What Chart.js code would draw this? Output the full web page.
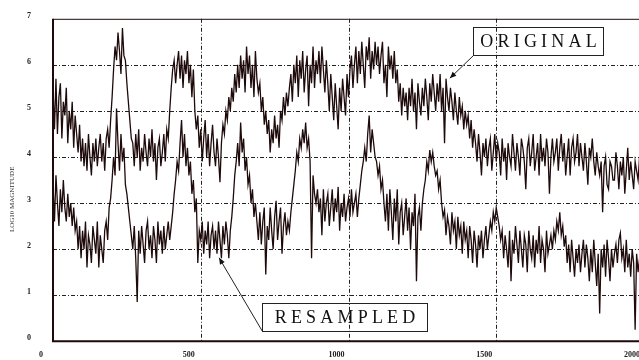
<!DOCTYPE html>
<html><head><meta charset="utf-8">
<script src="https://cdn.jsdelivr.net/npm/chart.js@4"></script>
<style>
html,body{margin:0;padding:0;background:#fff;overflow:hidden;width:639px;height:360px}
#wrap{position:absolute;left:0;top:0;width:660px;height:360px}
</style>
</head><body><div id="wrap"><canvas id="c" width="660" height="360"></canvas></div>
<script>
// Sampling grid of the spectra (frequency bins)
const START = 0, STEP = 5;

// LOG10 magnitude, ORIGINAL signal (0..2000 every 5)
const original = [
 5.5,4.6,5.7,4.5,5.3,5.6,4.4,5.2,4.9,5.5, 4.3,5.0,4.6,5.2,4.2,4.9,4.5,4.1,4.7,3.9,
 4.4,3.8,4.3,3.7,4.5,4.0,3.6,4.3,3.9,4.4, 3.8,4.2,4.5,3.9,4.3,3.7,4.4,4.6,4.2,4.8,
 5.3,5.9,6.4,6.1,6.7,6.3,5.8,6.8,6.2,6.1, 5.6,5.2,4.8,4.4,4.3,3.8,4.5,4.0,4.6,3.7,
 4.2,3.9,4.5,4.1,3.8,4.4,4.0,4.6,3.9,4.3, 3.5,4.2,4.4,3.8,4.1,4.5,3.9,4.6,4.4,5.0,
 5.5,5.9,6.1,5.6,6.0,6.3,5.7,6.2,5.5,6.1, 5.8,6.3,5.6,6.0,5.3,5.9,5.0,4.6,4.9,4.2,
 4.6,3.9,4.4,4.8,4.0,4.5,3.8,4.3,4.7,4.1, 3.8,4.4,4.0,3.45,4.3,4.7,4.5,5.0,4.8,5.3,
 5.0,5.5,5.2,5.8,5.4,6.0,5.5,6.2,5.7,6.1, 5.4,6.4,5.8,6.2,5.5,6.0,5.3,6.3,5.7,5.4,
 5.6,5.0,5.3,4.7,5.0,4.5,4.8,4.1,4.6,4.3, 4.9,4.4,4.7,4.2,5.0,4.8,5.3,4.9,5.4,5.1,
 5.5,5.8,5.2,6.0,5.6,6.2,5.3,6.1,5.7,6.3, 5.4,5.9,6.2,5.1,6.0,5.6,6.4,5.5,6.1,5.8,
 6.3,5.6,6.4,5.9,5.4,6.1,5.6,5.0,5.8,5.3, 4.8,5.6,5.1,4.6,5.5,5.0,5.7,5.3,4.9,5.8,
 5.3,5.9,6.2,5.5,6.0,6.4,5.6,6.3,5.8,6.5, 6.0,5.5,6.4,6.1,6.6,5.7,6.3,5.9,6.5,6.0,
 6.4,5.8,6.2,6.5,5.6,6.0,5.3,6.4,5.9,6.2, 5.7,6.3,5.6,5.9,5.2,5.6,4.9,5.5,5.1,5.4,
 4.8,5.5,5.1,5.7,5.0,5.4,4.6,5.6,5.2,4.9, 5.5,5.1,5.7,5.3,4.8,5.6,5.2,5.8,5.4,5.0,
 5.6,5.2,5.8,5.0,5.5,4.3,5.7,5.3,5.0,5.5, 5.2,4.8,5.4,5.0,4.7,5.3,4.9,5.1,4.6,5.0,
 4.7,4.9,4.4,4.8,4.2,4.6,4.3,3.9,4.5,4.1, 3.6,4.3,4.0,4.4,3.8,4.2,4.4,3.7,4.1,4.5,
 3.9,4.3,4.1,3.6,4.4,3.9,4.2,3.5,4.3,4.0, 3.8,4.5,4.1,3.7,4.3,4.0,3.6,4.4,4.2,3.9,
 3.3,4.2,4.4,3.8,4.1,4.5,3.7,4.0,4.3,3.6, 4.5,3.9,4.2,3.8,4.4,4.1,3.2,4.0,4.4,3.9,
 4.1,4.4,3.7,4.2,4.5,3.9,4.3,3.6,4.0,4.4, 3.6,4.2,4.4,3.9,4.1,4.5,3.8,4.3,4.0,3.7,
 4.3,3.9,3.4,4.2,4.0,4.4,3.9,3.6,4.1,3.8, 3.6,3.9,2.8,3.8,4.0,3.4,3.3,3.9,3.8,3.5,
 3.5,4.1,3.8,3.3,3.9,3.6,4.0,3.2,3.7,4.2, 3.5,3.9,3.6,3.3,3.9,3.7,3.5,4.0,3.8,3.4,
 3.6
];

// LOG10 magnitude, RESAMPLED signal (0..2000 every 5)
const resampled = [
 3.4,2.6,3.6,3.0,2.5,3.3,2.8,3.5,2.9,2.6, 3.2,2.7,3.0,2.5,2.9,2.4,2.6,2.0,2.5,1.8,
 2.4,2.0,2.6,1.6,2.3,2.1,1.7,2.5,2.2,1.9, 2.6,1.6,2.3,2.0,1.7,2.4,2.6,2.2,2.9,3.1,
 3.5,4.0,3.6,5.05,4.3,3.7,4.5,3.9,4.2,3.4, 3.2,2.9,2.6,2.3,2.0,2.5,1.8,0.85,2.4,1.9,
 2.5,2.1,1.7,2.4,2.6,2.0,2.3,1.8,2.5,2.2, 1.7,2.6,2.1,2.4,1.9,2.5,2.0,2.3,2.6,2.2,
 2.5,2.8,3.2,3.5,3.9,3.7,4.3,4.8,4.0,4.5, 3.8,4.2,3.6,3.9,3.2,3.5,2.8,3.1,1.7,2.4,
 2.2,2.6,1.9,2.4,2.1,2.6,1.8,2.3,2.5,2.0, 2.4,1.9,2.6,2.2,1.8,2.5,2.1,2.6,2.3,1.8,
 2.4,2.7,3.1,3.6,3.9,4.3,3.8,4.75,4.1,4.4, 3.7,4.0,3.4,3.6,3.0,3.3,2.7,3.0,2.6,2.2,
 2.8,2.1,2.6,2.9,1.45,2.5,2.2,2.9,2.4,2.0, 2.7,3.05,2.2,2.6,2.9,1.9,2.5,2.8,2.3,2.6,
 2.4,2.8,3.1,3.4,3.7,4.1,3.9,4.4,4.2,4.6, 4.3,4.75,4.2,4.4,3.9,1.8,3.6,3.2,3.0,3.3,
 2.8,3.1,2.3,3.3,2.6,3.0,3.2,2.5,2.9,3.3, 2.6,3.1,2.8,3.35,2.4,3.0,2.7,3.2,2.6,2.9,
 3.1,2.7,3.3,2.8,3.0,3.2,2.7,3.1,3.4,3.7, 3.9,4.2,3.9,4.5,4.9,4.1,4.6,4.3,4.0,3.9,
 3.6,3.8,3.3,3.5,3.0,2.6,3.2,2.4,3.3,2.8, 2.2,3.1,2.6,3.3,2.1,2.8,3.0,2.3,2.7,3.1,
 2.4,2.9,2.0,2.8,2.5,3.2,1.3,2.7,2.9,2.4, 3.0,3.3,3.5,3.9,3.7,4.15,3.9,4.1,3.8,3.6,
 3.7,3.3,3.5,3.0,2.7,2.85,2.3,2.7,2.5,2.1, 2.8,2.4,2.6,2.0,2.7,2.3,2.5,1.9,2.6,2.2,
 2.4,1.8,2.5,2.2,1.7,2.4,2.1,1.6,2.3,2.0, 2.4,1.8,2.2,2.5,2.0,2.3,2.6,2.4,2.8,2.6,
 2.9,2.7,2.5,2.2,2.4,1.8,2.3,2.0,1.6,2.4, 1.3,2.2,1.9,2.5,2.1,1.7,2.4,2.0,1.6,2.3,
 2.1,1.5,2.4,2.0,1.8,2.3,1.6,2.2,1.9,2.5, 1.7,2.2,2.0,1.5,2.4,1.9,2.1,2.3,2.0,2.4,
 2.2,2.6,2.4,2.8,2.3,2.5,2.05,2.3,1.7,2.1, 1.5,2.2,1.8,1.4,2.0,1.7,2.1,1.5,1.9,2.2,
 1.6,2.1,1.8,1.3,2.0,1.5,2.2,1.7,1.2,1.9, 0.6,2.0,1.6,2.1,1.4,2.2,1.8,1.3,2.0,1.6,
 1.9,2.1,1.7,2.2,2.35,1.8,2.0,1.5,2.2,1.6, 1.9,1.4,2.0,1.7,0.25,1.9,1.5,1.8,2.0,1.6,
 1.9
];

const xTickValues = [0, 500, 1000, 1500, 2000];
const yTickValues = [0, 1, 2, 3, 4, 5, 6, 7];
const yTitle = 'LOG10 MAGNITUDE';

// Callout boxes (data coordinates)
const callouts = [
  { text: 'ORIGINAL',  x1: 1421, y1: 6.83, x2: 1861, y2: 6.22, tipX: 1343, tipY: 5.71 },
  { text: 'RESAMPLED', x1: 707,  y1: 0.84, x2: 1266, y2: 0.23, tipX: 562,  tipY: 1.81 }
];

const INK = '#1e0a0a';
const SERIF = '"Liberation Serif","Times New Roman",serif';

const toPoints = arr => arr.map((v, i) => ({ x: START + i * STEP, y: v }));

const framePlugin = {
  id: 'frame',
  beforeDatasetsDraw(chart) {
    const { ctx, chartArea: a, scales: { x, y } } = chart;
    ctx.save();
    ctx.strokeStyle = '#222';
    ctx.lineWidth = 1;
    ctx.setLineDash([4, 2, 1, 2]);
    yTickValues.forEach(v => {
      if (v === 0 || v === 7) return;
      const py = Math.round(y.getPixelForValue(v)) + 0.5;
      ctx.beginPath(); ctx.moveTo(a.left, py); ctx.lineTo(a.right, py); ctx.stroke();
    });
    xTickValues.forEach(v => {
      if (v === 0) return;
      const px = Math.round(x.getPixelForValue(v)) + 0.5;
      ctx.beginPath(); ctx.moveTo(px, a.top); ctx.lineTo(px, a.bottom); ctx.stroke();
    });
    ctx.setLineDash([]);
    ctx.strokeStyle = INK;
    ctx.beginPath(); ctx.moveTo(a.left, a.top + 0.5); ctx.lineTo(a.right, a.top + 0.5); ctx.stroke();
    ctx.restore();
  },
  afterDatasetsDraw(chart) {
    const { ctx, chartArea: a, scales: { x, y } } = chart;
    ctx.save();
    ctx.strokeStyle = INK;
    ctx.lineWidth = 2;
    ctx.beginPath();
    ctx.moveTo(a.left, a.top); ctx.lineTo(a.left, a.bottom); ctx.lineTo(a.right, a.bottom);
    ctx.stroke();
    ctx.fillStyle = '#333';
    ctx.font = '7px ' + SERIF;
    ctx.textAlign = 'center'; ctx.textBaseline = 'middle';
    ctx.translate(12, a.top + (a.bottom - a.top) * 0.56);
    ctx.rotate(-Math.PI / 2);
    ctx.fillText(yTitle, 0, 0);
    ctx.restore();

    callouts.forEach(c => {
      const bx1 = Math.round(x.getPixelForValue(c.x1)) + 0.5;
      const bx2 = Math.round(x.getPixelForValue(c.x2)) + 0.5;
      const by1 = Math.round(y.getPixelForValue(c.y1)) + 0.5;
      const by2 = Math.round(y.getPixelForValue(c.y2)) + 0.5;
      const tx = x.getPixelForValue(c.tipX), ty = y.getPixelForValue(c.tipY);
      ctx.save();
      ctx.strokeStyle = '#222'; ctx.lineWidth = 1;
      ctx.strokeRect(bx1, by1, bx2 - bx1, by2 - by1);
      const sx = bx1, sy = by2;
      ctx.beginPath(); ctx.moveTo(sx, sy); ctx.lineTo(tx, ty); ctx.stroke();
      const ang = Math.atan2(ty - sy, tx - sx), L = 7, W = 0.4;
      ctx.fillStyle = '#111';
      ctx.beginPath();
      ctx.moveTo(tx, ty);
      ctx.lineTo(tx - L * Math.cos(ang - W), ty - L * Math.sin(ang - W));
      ctx.lineTo(tx - L * Math.cos(ang + W), ty - L * Math.sin(ang + W));
      ctx.closePath(); ctx.fill();
      ctx.fillStyle = '#111';
      ctx.font = '18px ' + SERIF;
      ctx.textBaseline = 'middle';
      ctx.textAlign = 'left';
      const sp = 4.2;
      let w = 0;
      for (const ch of c.text) w += ctx.measureText(ch).width + sp;
      w -= sp;
      let cx = (bx1 + bx2) / 2 - w / 2;
      const cy = (by1 + by2) / 2 + 1;
      for (const ch of c.text) { ctx.fillText(ch, cx, cy); cx += ctx.measureText(ch).width + sp; }
      ctx.restore();
    });
  }
};

new Chart(document.getElementById('c'), {
  type: 'line',
  data: {
    datasets: [
      { label: 'ORIGINAL', data: toPoints(original), borderColor: INK, borderWidth: 1.3, pointRadius: 0, tension: 0, fill: false },
      { label: 'RESAMPLED', data: toPoints(resampled), borderColor: INK, borderWidth: 1.3, pointRadius: 0, tension: 0, fill: false }
    ]
  },
  options: {
    responsive: false,
    animation: false,
    layout: { padding: { top: 11, right: 16, left: 0, bottom: 0 } },
    plugins: { legend: { display: false }, tooltip: { enabled: false } },
    scales: {
      x: {
        type: 'linear', min: 0, max: 2000,
        afterBuildTicks: s => { s.ticks = xTickValues.map(v => ({ value: v })); },
        afterFit: s => { s.height = 17; },
        grid: { display: false }, border: { display: false },
        ticks: { align: 'center', labelOffset: -12, padding: 1, color: '#222', maxRotation: 0,
                 callback: v => String(v),
                 font: { family: SERIF, size: 8, weight: 'bold' } }
      },
      y: {
        min: 0, max: 7,
        afterBuildTicks: s => { s.ticks = yTickValues.map(v => ({ value: v })); },
        afterFit: s => { s.width = 53; },
        grid: { display: false }, border: { display: false },
        ticks: { padding: 14, labelOffset: -3, color: '#222',
                 callback: v => String(v),
                 font: { family: SERIF, size: 8, weight: 'bold' } }
      }
    }
  },
  plugins: [framePlugin]
});
</script>
</body></html>
